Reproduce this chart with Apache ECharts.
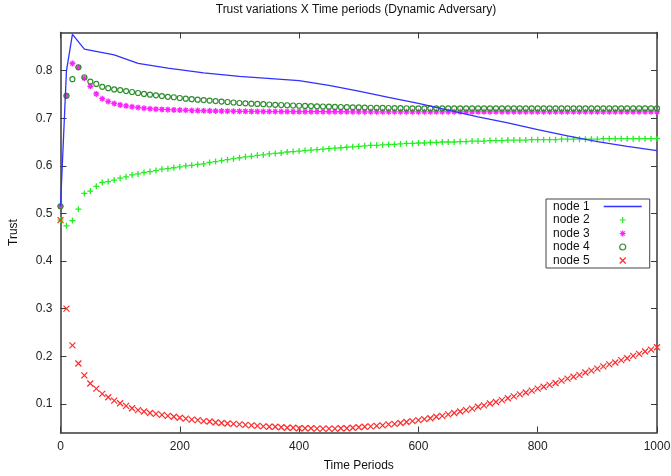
<!DOCTYPE html>
<html>
<head>
<meta charset="utf-8">
<script src="https://cdn.jsdelivr.net/npm/echarts@6/dist/echarts.min.js"></script>
<style>
  html, body { margin: 0; padding: 0; background: #fff; }
  #chart { width: 671px; height: 476px; }
</style>
</head>
<body>
<div id="chart"></div>
<script>
// time periods (sampled every 10)
const timeSteps = [
  0, 10, 20, 30, 40, 50, 60, 70, 80, 90,
  100, 110, 120, 130, 140, 150, 160, 170, 180, 190,
  200, 210, 220, 230, 240, 250, 260, 270, 280, 290,
  300, 310, 320, 330, 340, 350, 360, 370, 380, 390,
  400, 410, 420, 430, 440, 450, 460, 470, 480, 490,
  500, 510, 520, 530, 540, 550, 560, 570, 580, 590,
  600, 610, 620, 630, 640, 650, 660, 670, 680, 690,
  700, 710, 720, 730, 740, 750, 760, 770, 780, 790,
  800, 810, 820, 830, 840, 850, 860, 870, 880, 890,
  900, 910, 920, 930, 940, 950, 960, 970, 980, 990,
  1000
];

// node 1 is a plain line, read at its visible bends
const node1Time = [0, 10, 20, 40, 90, 130, 180, 240, 300, 400, 450, 500, 550, 600, 650, 700, 750, 800, 850, 900, 950, 1000];
const node1Trust = [0.515, 0.800, 0.876, 0.845, 0.833, 0.815, 0.805, 0.795, 0.788, 0.779, 0.769, 0.757, 0.744, 0.731, 0.717, 0.703, 0.690, 0.676, 0.663, 0.651, 0.641, 0.632];

const node2Trust = [
  0.486, 0.474, 0.485, 0.509, 0.542, 0.547, 0.557, 0.565, 0.567, 0.570,
  0.574, 0.577, 0.581, 0.583, 0.586, 0.588, 0.590, 0.593, 0.594, 0.596,
  0.598, 0.600, 0.601, 0.603, 0.604, 0.607, 0.609, 0.611, 0.613, 0.615,
  0.617, 0.619, 0.620, 0.622, 0.623, 0.625, 0.626, 0.627, 0.629, 0.630,
  0.631, 0.632, 0.633, 0.634, 0.635, 0.636, 0.637, 0.638, 0.639, 0.640,
  0.641, 0.642, 0.643, 0.643, 0.644, 0.645, 0.645, 0.646, 0.647, 0.647,
  0.648, 0.648, 0.649, 0.649, 0.650, 0.650, 0.650, 0.651, 0.651, 0.652,
  0.652, 0.652, 0.653, 0.653, 0.653, 0.654, 0.654, 0.654, 0.654, 0.655,
  0.655, 0.655, 0.655, 0.655, 0.656, 0.656, 0.656, 0.656, 0.656, 0.656,
  0.656, 0.657, 0.657, 0.657, 0.657, 0.657, 0.657, 0.657, 0.657, 0.657,
  0.657
];

const node3Trust = [
  0.515, 0.747, 0.815, 0.807, 0.784, 0.767, 0.751, 0.741, 0.735, 0.731,
  0.728, 0.726, 0.724, 0.7225, 0.721, 0.720, 0.719, 0.7185, 0.718, 0.7175,
  0.717, 0.7167, 0.7163, 0.716, 0.7157, 0.7155, 0.7152, 0.715, 0.7148, 0.7146,
  0.7145, 0.7144, 0.7143, 0.7142, 0.7141, 0.714, 0.714, 0.7139, 0.7139, 0.7138,
  0.7138, 0.7138, 0.7137, 0.7137, 0.7137, 0.7136, 0.7136, 0.7136, 0.7136, 0.7135,
  0.7135, 0.7135, 0.7135, 0.7135, 0.7135, 0.7135, 0.7135, 0.7135, 0.7135, 0.7135,
  0.7135, 0.7135, 0.7135, 0.7135, 0.7135, 0.7135, 0.7135, 0.7135, 0.7135, 0.7135,
  0.7135, 0.7135, 0.7135, 0.7135, 0.7135, 0.7135, 0.7135, 0.7135, 0.7135, 0.7135,
  0.7135, 0.7135, 0.7135, 0.7135, 0.7135, 0.7135, 0.7135, 0.7135, 0.7135, 0.7135,
  0.7135, 0.7135, 0.7135, 0.7135, 0.7135, 0.7135, 0.7135, 0.7135, 0.7135, 0.7135,
  0.7135
];

const node4Trust = [
  0.515, 0.747, 0.782, 0.807, 0.786, 0.777, 0.772, 0.766, 0.763, 0.7605,
  0.759, 0.757, 0.755, 0.753, 0.751, 0.7495, 0.748, 0.7465, 0.745, 0.744,
  0.7425, 0.741, 0.740, 0.739, 0.738, 0.737, 0.736, 0.735, 0.734, 0.733,
  0.732, 0.7313, 0.7306, 0.730, 0.7294, 0.7288, 0.7282, 0.7277, 0.7272, 0.7267,
  0.7262, 0.7258, 0.7254, 0.725, 0.7246, 0.7242, 0.7238, 0.7235, 0.7232, 0.7229,
  0.7226, 0.7223, 0.722, 0.7218, 0.7216, 0.7214, 0.7212, 0.721, 0.7209, 0.7208,
  0.7207, 0.7206, 0.7206, 0.7206, 0.7205, 0.7205, 0.7205, 0.7205, 0.7205, 0.7205,
  0.7205, 0.7205, 0.7205, 0.7205, 0.7205, 0.7205, 0.7205, 0.7205, 0.7205, 0.7205,
  0.7205, 0.7205, 0.7205, 0.7205, 0.7205, 0.7205, 0.7205, 0.7205, 0.7205, 0.7205,
  0.7205, 0.7205, 0.7205, 0.7205, 0.7205, 0.7205, 0.7205, 0.7205, 0.7205, 0.7205,
  0.7205
];

const node5Trust = [
  0.486, 0.300, 0.223, 0.185, 0.160, 0.143, 0.132, 0.121, 0.114, 0.107,
  0.1015, 0.096, 0.091, 0.087, 0.084, 0.081, 0.079, 0.077, 0.075, 0.073,
  0.071, 0.069, 0.067, 0.066, 0.064, 0.063, 0.061, 0.060, 0.059, 0.058,
  0.057, 0.056, 0.055, 0.054, 0.053, 0.052, 0.052, 0.051, 0.050, 0.050,
  0.049, 0.049, 0.049, 0.048, 0.048, 0.048, 0.048, 0.049, 0.049, 0.050,
  0.051, 0.052, 0.053, 0.054, 0.055, 0.057, 0.058, 0.060, 0.062, 0.064,
  0.066, 0.068, 0.070, 0.073, 0.075, 0.078, 0.081, 0.084, 0.087, 0.090,
  0.094, 0.097, 0.101, 0.104, 0.108, 0.112, 0.116, 0.120, 0.124, 0.128,
  0.132, 0.136, 0.140, 0.144, 0.149, 0.153, 0.157, 0.161, 0.166, 0.170,
  0.174, 0.179, 0.183, 0.187, 0.192, 0.196, 0.201, 0.205, 0.210, 0.214,
  0.219
];

const yTicks = [0.1, 0.2, 0.3, 0.4, 0.5, 0.6, 0.7, 0.8];
const seriesNames = ['node 1', 'node 2', 'node 3', 'node 4', 'node 5'];

// gnuplot-like point types
const plusPath = 'path://M5,0 L5,10 M0,5 L10,5';
const starPath = 'path://M5,0 L5,10 M0,5 L10,5 M1.5,1.5 L8.5,8.5 M8.5,1.5 L1.5,8.5';
const crossPath = 'path://M0,0 L10,10 M10,0 L0,10';
const linePath = 'path://M0,0 L38,0 L38,1.3 L0,1.3 Z';

const font = 'Liberation Sans, Arial, sans-serif';
const axisColor = '#3a3a3a';

const pairs = (xs, ys) => xs.map((x, i) => [x, ys[i]]);

const markerSeries = (name, data, symbol, size, color, width) => ({
  name: name,
  type: 'scatter',
  xAxisIndex: 0,
  yAxisIndex: 0,
  symbol: symbol,
  symbolSize: size,
  itemStyle: { color: 'transparent', borderColor: color, borderWidth: width, opacity: 1 },
  emphasis: { disabled: true },
  data: pairs(timeSteps, data)
});

const chart = echarts.init(document.getElementById('chart'), null, { renderer: 'canvas' });

const option = {
  animation: false,
  backgroundColor: '#fff',
  title: {
    text: 'Trust variations X Time periods (Dynamic Adversary)',
    left: 356,
    top: 4,
    textAlign: 'center',
    padding: 0,
    textStyle: { fontFamily: font, fontSize: 12, fontWeight: 'normal', color: '#111' }
  },
  legend: {
    orient: 'vertical',
    left: 546,
    top: 199,
    align: 'right',
    itemWidth: 38,
    itemHeight: 6,
    itemGap: 0.5,
    padding: [1, 8, 1, 7],
    borderColor: '#444',
    borderWidth: 1,
    backgroundColor: '#fff',
    selectedMode: false,
    itemStyle: { borderWidth: 1.2 },
    textStyle: { fontFamily: font, fontSize: 12, color: '#111', lineHeight: 13, padding: [0, 9, 0, 0] },
    data: [
      { name: 'node 1', icon: linePath, itemStyle: { color: '#3030ff', borderWidth: 0 } },
      { name: 'node 2', icon: plusPath },
      { name: 'node 3', icon: starPath },
      { name: 'node 4', icon: 'circle' },
      { name: 'node 5', icon: crossPath }
    ]
  },
  grid: {
    left: 60.5,
    right: 14,
    top: 32.5,
    bottom: 43.5,
    containLabel: false,
    outerBoundsMode: 'none'
  },
  xAxis: [
    {
      type: 'value',
      position: 'bottom',
      min: 0,
      max: 1000,
      interval: 200,
      name: 'Time Periods',
      nameLocation: 'middle',
      nameGap: 27,
      nameTextStyle: { fontFamily: font, fontSize: 12, color: '#111' },
      axisLine: { show: true, onZero: false, lineStyle: { color: axisColor, width: 1.5 } },
      axisTick: { show: true, inside: true, length: 6, lineStyle: { color: axisColor } },
      axisLabel: { margin: 8, fontFamily: font, fontSize: 12, color: '#222', formatter: v => String(v) },
      splitLine: { show: false }
    },
    {
      type: 'value',
      position: 'top',
      min: 0,
      max: 1000,
      interval: 200,
      axisLine: { show: true, onZero: false, lineStyle: { color: axisColor, width: 1.5 } },
      axisTick: { show: true, inside: true, length: 6, lineStyle: { color: axisColor } },
      axisLabel: { show: false },
      splitLine: { show: false }
    }
  ],
  yAxis: [
    {
      type: 'value',
      position: 'left',
      min: 0.04,
      max: 0.88,
      name: 'Trust',
      nameLocation: 'middle',
      nameGap: 41,
      nameTextStyle: { fontFamily: font, fontSize: 12, color: '#111' },
      axisLine: { show: true, onZero: false, lineStyle: { color: axisColor, width: 1.5 } },
      axisTick: { show: true, inside: true, length: 6, customValues: yTicks, lineStyle: { color: axisColor } },
      axisLabel: { customValues: yTicks, margin: 8, fontFamily: font, fontSize: 12, color: '#222', formatter: v => v.toFixed(1) },
      splitLine: { show: false }
    },
    {
      type: 'value',
      position: 'right',
      min: 0.04,
      max: 0.88,
      axisLine: { show: true, onZero: false, lineStyle: { color: axisColor, width: 1.5 } },
      axisTick: { show: true, inside: true, length: 6, customValues: yTicks, lineStyle: { color: axisColor } },
      axisLabel: { show: false },
      splitLine: { show: false }
    }
  ],
  series: [
    {
      name: seriesNames[0],
      type: 'line',
      xAxisIndex: 0,
      yAxisIndex: 0,
      symbol: 'none',
      lineStyle: { color: '#3030ff', width: 1.3 },
      itemStyle: { color: '#3030ff' },
      emphasis: { disabled: true },
      data: pairs(node1Time, node1Trust)
    },
    markerSeries(seriesNames[1], node2Trust, plusPath, 6, '#22ee22', 1.3),
    markerSeries(seriesNames[2], node3Trust, starPath, 6, '#ff22ff', 1.3),
    markerSeries(seriesNames[3], node4Trust, 'circle', 5, '#2f8f2f', 1.2),
    markerSeries(seriesNames[4], node5Trust, crossPath, 6, '#ff2a2a', 1.2)
  ]
};

chart.setOption(option);
</script>
</body>
</html>
